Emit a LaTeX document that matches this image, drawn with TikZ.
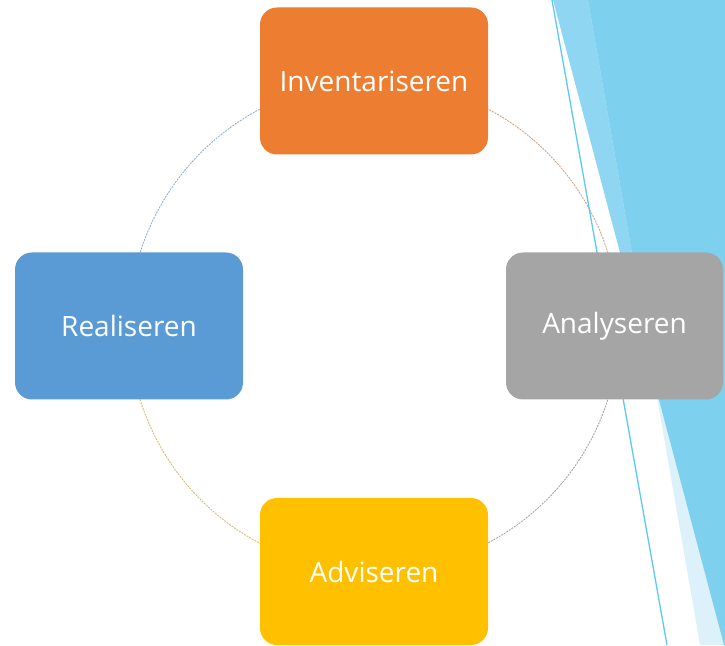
\documentclass[tikz,border=0pt]{standalone}
\usepackage{fontspec}
\setmainfont{Open Sans}
\usetikzlibrary{backgrounds}
\definecolor{invcol}{HTML}{ED7D31}
\definecolor{anacol}{HTML}{A5A5A5}
\definecolor{advcol}{HTML}{FFC000}
\definecolor{realcol}{HTML}{5B9BD5}
\definecolor{facetmain}{HTML}{7DD0EE}
\definecolor{facetmid}{HTML}{8ED6F1}
\definecolor{facetpale}{HTML}{DDF1FA}
\definecolor{facetline}{HTML}{5ACAF0}
\tikzset{
  stage/.style={rounded corners=17pt, minimum width=228pt, minimum height=147pt,
    text=white, inner sep=0pt, font=\fontsize{28}{34}\selectfont},
  cyc/.style={line width=0.9pt, dash pattern=on 2pt off 1pt, opacity=0.7}
}
\begin{document}
\begin{tikzpicture}[x=1pt,y=1pt]
    \useasboundingbox (0,0) rectangle (725,645);
    % slide decoration
    \fill[facetmid] (553,645) -- (725,645) -- (725,0) -- (724,0) -- cycle;
    \fill[facetpale] (588,645) -- (725,645) -- (725,0) -- (700,0) -- cycle;
    \begin{scope}
      \clip (588,645) -- (725,645) -- (725,0) -- (700,0) -- cycle;
      \fill[facetmain] (553,645) -- (725,645) -- (725,0) -- (724,0) -- cycle;
    \end{scope}
    \draw[facetline, line width=1.3pt] (552,645) -- (667,0);
    % cycle
    \node[stage, fill=invcol] (inv) at (374,564) {Inventariseren};
    \node[stage, fill=anacol, minimum width=217pt] (ana) at (614.5,319) {Analyseren};
    \node[stage, fill=advcol] (adv) at (374,73.5) {Adviseren};
    \node[stage, fill=realcol] (real) at (129,319) {Realiseren};
    \begin{scope}[on background layer]
      \draw[cyc, invcol!60!gray] (inv.center) arc[start angle=90, end angle=0, radius=245pt];
      \draw[cyc, gray] (ana.center) ++(4.5,0) arc[start angle=0, end angle=-90, radius=245pt];
      \draw[cyc, advcol!55!gray] (adv.center) arc[start angle=270, end angle=180, radius=245pt];
      \draw[cyc, realcol!65!gray] (real.center) arc[start angle=180, end angle=90, radius=245pt];
    \end{scope}
\end{tikzpicture}
\end{document}
